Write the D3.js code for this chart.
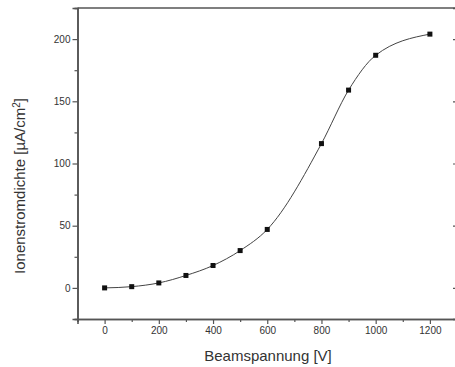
<!DOCTYPE html>
<html>
<head>
<meta charset="utf-8">
<script src="https://cdn.jsdelivr.net/npm/d3@7"></script>
<style>
  body { margin: 0; background: #fff; }
  svg { display: block; font-family: "Liberation Sans", Arial, sans-serif; }
</style>
</head>
<body>
<div id="root"></div>
<script>
// Beam voltage [V] and measured ion current density [µA/cm²]
const voltage = [0, 100, 200, 300, 400, 500, 600, 800, 900, 1000, 1200];
const density = [0, 1, 4, 10, 18, 30, 47, 116, 159, 187, 204];

const xTicks = [0, 200, 400, 600, 800, 1000, 1200];
const xMinor = [-100, 100, 300, 500, 700, 900, 1100, 1300];
const yTicks = [0, 50, 100, 150, 200];
const yMinor = [-25, 25, 75, 125, 175, 225];

const data = voltage.map((v, i) => ({ x: v, y: density[i] }));

const svg = d3.select("#root").append("svg")
  .attr("width", 455)
  .attr("height", 367);

const margin = { top: 8, right: -2, bottom: 48, left: 77.5 },
  width = 455 - margin.left - margin.right,
  height = 367 - margin.top - margin.bottom;

const g = svg.append("g")
  .attr("transform", `translate(${margin.left},${margin.top})`);

const x = d3.scaleLinear().domain([-100, 1300]).range([0, width]);
const y = d3.scaleLinear().domain([-25, 225]).range([height, 0]);

const axisColor = "#555";
const textColor = "#333";

function styleAxis(sel) {
  sel.select(".domain").attr("stroke", axisColor).attr("stroke-width", 1.6);
  sel.selectAll(".tick line").attr("stroke", axisColor).attr("stroke-width", 1.2);
  sel.selectAll(".tick text")
    .attr("fill", textColor)
    .attr("font-size", 10)
    .attr("font-family", "Liberation Sans, Arial, sans-serif");
}

// minor ticks first (no labels)
g.append("g")
  .attr("transform", `translate(0,${height})`)
  .call(d3.axisBottom(x).tickValues(xMinor).tickSize(3).tickFormat(""))
  .call(styleAxis);
g.append("g")
  .call(d3.axisLeft(y).tickValues(yMinor).tickSize(3).tickFormat(""))
  .call(styleAxis);
g.append("g")
  .attr("transform", `translate(${width},0)`)
  .call(d3.axisLeft(y).tickValues(yMinor).tickSize(2).tickFormat(""))
  .call(styleAxis);

// major ticks
g.append("g")
  .attr("transform", `translate(0,${height})`)
  .call(d3.axisBottom(x).tickValues(xTicks).tickSize(5).tickPadding(3).tickFormat(d3.format("d")))
  .call(styleAxis);
g.append("g")
  .call(d3.axisLeft(y).tickValues(yTicks).tickSize(5).tickPadding(2).tickFormat(d3.format("d")))
  .call(styleAxis);
g.append("g")
  .attr("transform", `translate(${width},0)`)
  .call(d3.axisLeft(y).tickValues(yTicks).tickSize(4).tickFormat(""))
  .call(styleAxis);

// top frame line
g.append("line")
  .attr("x1", 0).attr("x2", width)
  .attr("y1", 0).attr("y2", 0)
  .attr("stroke", axisColor)
  .attr("stroke-width", 1.6);

// fitted curve
const line = d3.line()
  .x(d => x(d.x))
  .y(d => y(d.y))
  .curve(d3.curveMonotoneX);

g.append("path")
  .datum(data)
  .attr("fill", "none")
  .attr("stroke", "#444")
  .attr("stroke-width", 1)
  .attr("d", line);

// markers
g.selectAll("rect.pt")
  .data(data)
  .join("rect")
  .attr("class", "pt")
  .attr("x", d => x(d.x) - 2.5)
  .attr("y", d => y(d.y) - 2.5)
  .attr("width", 5)
  .attr("height", 5)
  .attr("fill", "#111");

// axis titles
svg.append("text")
  .attr("x", 268)
  .attr("y", 361)
  .attr("text-anchor", "middle")
  .attr("font-size", 15)
  .attr("fill", textColor)
  .text("Beamspannung [V]");

const yTitle = svg.append("text")
  .attr("transform", "translate(25,186) rotate(-90)")
  .attr("text-anchor", "middle")
  .attr("font-size", 15)
  .attr("fill", textColor);
yTitle.append("tspan").text("Ionenstromdichte [µA/cm");
yTitle.append("tspan").attr("dy", -5).attr("font-size", 10).text("2");
yTitle.append("tspan").attr("dy", 5).text("]");
</script>
</body>
</html>
